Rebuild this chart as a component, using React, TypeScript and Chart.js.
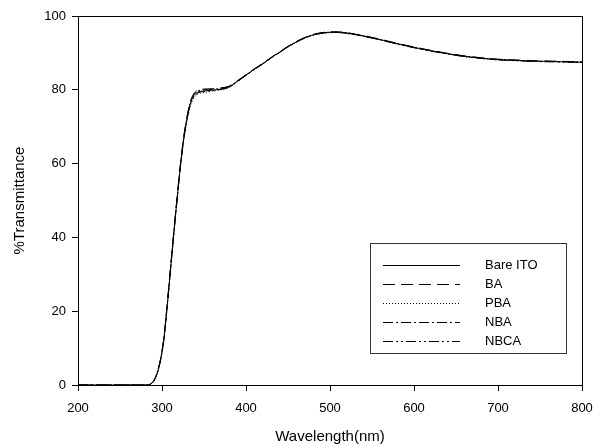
import React, { useEffect, useRef } from "react";
import { Chart, registerables } from "chart.js";

Chart.register(...registerables);

const wavelengths = [200, 250, 280, 286, 290, 294, 298, 302, 306, 310, 314, 318, 322, 326, 330, 334, 338, 342, 346, 350, 360, 370, 380, 390, 400, 410, 420, 430, 440, 450, 460, 470, 480, 490, 500, 510, 520, 530, 540, 550, 560, 580, 600, 620, 640, 660, 680, 700, 720, 740, 760, 780, 800];

const bareITO = [0, 0, 0, 0.2, 1, 3, 6.5, 12, 21, 31, 41, 50.5, 59.5, 67, 72.5, 76.5, 78.5, 79.3, 79.6, 79.7, 79.9, 80.2, 80.8, 82.4, 84, 85.6, 87.1, 88.7, 90.2, 91.7, 93, 94.1, 94.9, 95.4, 95.6, 95.6, 95.4, 95, 94.6, 94.1, 93.6, 92.5, 91.5, 90.6, 89.8, 89.1, 88.6, 88.2, 88, 87.8, 87.7, 87.6, 87.5];
const ba = [0, 0, 0, 0.2, 1.1, 3.2, 6.8, 12.4, 21.5, 31.5, 41.5, 51, 60, 67.5, 73, 77, 79, 79.8, 80.1, 80.2, 80.3, 80.5, 81, 82.5, 84.1, 85.7, 87.2, 88.8, 90.3, 91.8, 93.1, 94.2, 95, 95.5, 95.7, 95.7, 95.5, 95.1, 94.7, 94.2, 93.7, 92.6, 91.6, 90.7, 89.9, 89.2, 88.7, 88.3, 88.1, 87.9, 87.8, 87.7, 87.6];
const pba = [0, 0, 0, 0.2, 0.9, 2.9, 6.3, 11.7, 20.6, 30.5, 40.5, 50, 59, 66.5, 71.8, 75.8, 77.8, 78.8, 79.1, 79.3, 79.6, 80, 80.6, 82.2, 83.9, 85.5, 87, 88.6, 90.1, 91.6, 92.9, 94, 94.8, 95.3, 95.5, 95.5, 95.3, 94.9, 94.5, 94, 93.5, 92.4, 91.4, 90.5, 89.7, 89, 88.5, 88.1, 87.9, 87.7, 87.6, 87.5, 87.4];
const nba = [0, 0, 0, 0.2, 1, 3.1, 6.6, 12.2, 21.2, 31.2, 41.2, 50.8, 59.8, 67.3, 72.8, 76.8, 78.8, 79.6, 79.9, 80, 80.1, 80.4, 80.9, 82.4, 84, 85.6, 87.1, 88.7, 90.2, 91.7, 93, 94.1, 94.9, 95.4, 95.6, 95.6, 95.4, 95, 94.6, 94.1, 93.6, 92.5, 91.5, 90.6, 89.8, 89.1, 88.6, 88.2, 88, 87.8, 87.7, 87.6, 87.5];
const nbca = [0, 0, 0, 0.2, 1, 3, 6.4, 11.9, 20.8, 30.8, 40.8, 50.3, 59.3, 66.8, 72.2, 76.2, 78.2, 79, 79.4, 79.5, 79.8, 80.1, 80.7, 82.3, 83.9, 85.5, 87, 88.6, 90.1, 91.6, 92.9, 94, 94.8, 95.3, 95.5, 95.5, 95.3, 94.9, 94.5, 94, 93.5, 92.4, 91.4, 90.5, 89.7, 89, 88.5, 88.1, 87.9, 87.7, 87.6, 87.5, 87.4];

const seriesNames = ["Bare ITO", "BA", "PBA", "NBA", "NBCA"];
const seriesValues = [bareITO, ba, pba, nba, nbca];
const seriesDashes: number[][] = [[], [12, 6], [1, 2], [10, 3, 2, 3], [10, 3, 2, 3, 2, 3]];

const xTicks = [200, 300, 400, 500, 600, 700, 800];
const yTicks = [0, 20, 40, 60, 80, 100];

const FONT = "Arial, 'Liberation Sans', sans-serif";

const framePlugin = {
  id: "frameAndLegend",
  afterDatasetsDraw(chart: any) {
    const { ctx, chartArea: a } = chart;
    ctx.save();
    ctx.strokeStyle = "#000";
    ctx.lineWidth = 1;
    ctx.setLineDash([]);
    ctx.strokeRect(Math.round(a.left) + 0.5, Math.round(a.top) + 0.5, Math.round(a.right - a.left), Math.round(a.bottom - a.top));

    // legend box
    const bx = 370, by = 243, bw = 196, bh = 110;
    ctx.fillStyle = "#fff";
    ctx.fillRect(bx, by, bw, bh);
    ctx.strokeStyle = "#333";
    ctx.strokeRect(bx + 0.5, by + 0.5, bw, bh);
    ctx.font = `13px ${FONT}`;
    ctx.textBaseline = "middle";
    ctx.textAlign = "left";
    chart.data.datasets.forEach((ds: any, i: number) => {
      const y = by + 21.5 + i * 19;
      ctx.strokeStyle = "#000";
      ctx.lineWidth = 1;
      ctx.setLineDash(ds.borderDash || []);
      ctx.beginPath();
      ctx.moveTo(383, Math.round(y) + 0.5);
      ctx.lineTo(460, Math.round(y) + 0.5);
      ctx.stroke();
      ctx.setLineDash([]);
      ctx.fillStyle = "#000";
      ctx.fillText(ds.label, 485, y + 1);
    });
    ctx.restore();
  },
};

export default function App() {
  const ref = useRef<HTMLCanvasElement | null>(null);
  useEffect(() => {
    if (!ref.current) return;
    const chart = new Chart(ref.current, {
      type: "line",
      data: {
        datasets: seriesNames.map((name, i) => ({
          label: name,
          data: wavelengths.map((w, j) => ({ x: w, y: seriesValues[i][j] })),
          borderColor: "#000",
          borderWidth: 1,
          borderDash: seriesDashes[i],
          pointRadius: 0,
          tension: 0.3,
          fill: false,
        })),
      },
      options: {
        animation: false,
        responsive: false,
        maintainAspectRatio: false,
        layout: { padding: { top: 16, right: 11, left: 0, bottom: 0 } },
        plugins: { legend: { display: false }, tooltip: { enabled: false } },
        scales: {
          x: {
            type: "linear",
            min: 200,
            max: 800,
            afterFit: (s: any) => { s.height = 61; s.paddingLeft = 0; s.paddingRight = 0; },
            afterBuildTicks: (s: any) => { s.ticks = xTicks.map((v) => ({ value: v })); },
            ticks: { color: "#000", font: { size: 13, family: FONT }, padding: 10, maxRotation: 0 },
            grid: { display: true, drawOnChartArea: false, drawTicks: true, tickLength: 6, color: "#000" },
            border: { display: true, color: "#000" },
            title: { display: true, text: "Wavelength(nm)", color: "#000", font: { size: 15, family: FONT }, padding: { top: 0, bottom: 0 } },
          },
          y: {
            type: "linear",
            min: 0,
            max: 100,
            afterFit: (s: any) => { s.width = 78; s.paddingTop = 0; s.paddingBottom = 0; },
            afterBuildTicks: (s: any) => { s.ticks = yTicks.map((v) => ({ value: v })); },
            ticks: { color: "#000", font: { size: 13, family: FONT }, padding: 6 },
            grid: { display: true, drawOnChartArea: false, drawTicks: true, tickLength: 6, color: "#000" },
            border: { display: true, color: "#000" },
            title: { display: true, text: "%Transmittance", color: "#000", font: { size: 15, family: FONT }, padding: { top: 11, bottom: 0 } },
          },
        },
      },
      plugins: [framePlugin],
    });
    return () => chart.destroy();
  }, []);
  return (
    <div style={{ position: "fixed", left: 0, top: 0, width: 593, height: 446, background: "#fff" }}>
      <canvas ref={ref} width={593} height={446} style={{ display: "block" }} />
    </div>
  );
}
